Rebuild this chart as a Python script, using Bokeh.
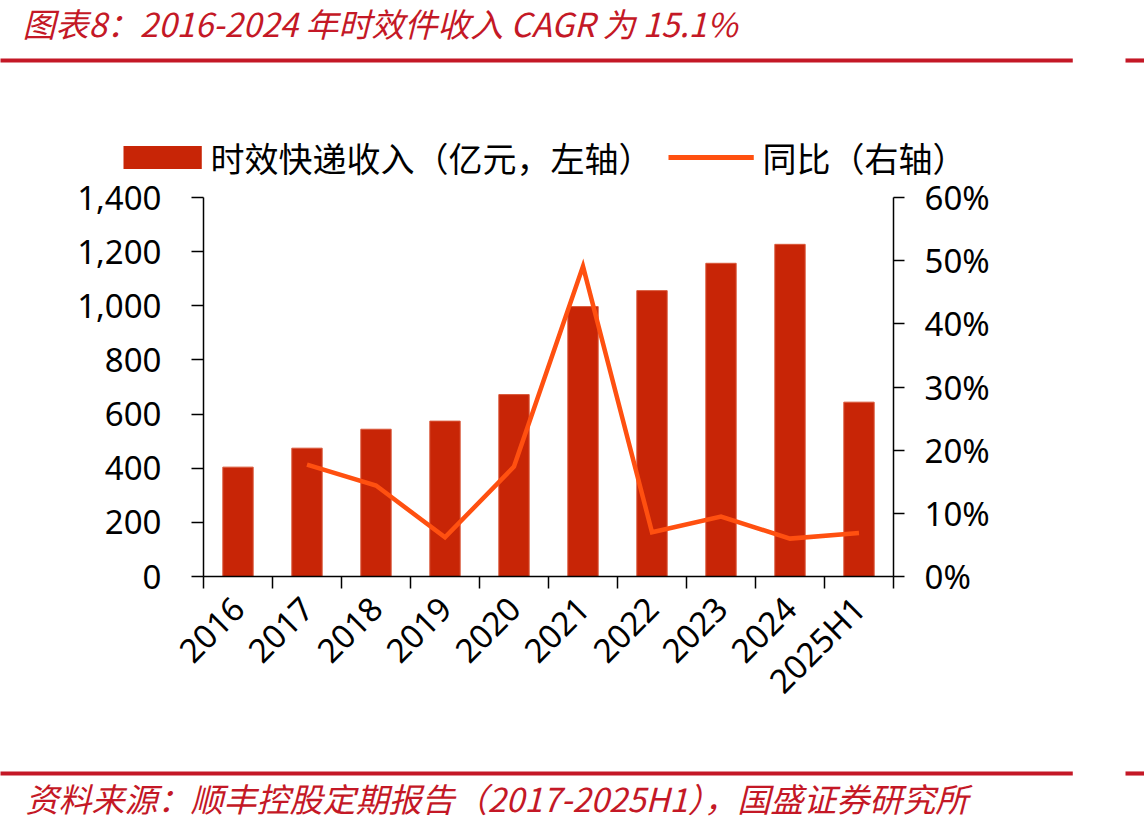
import math
from bokeh.plotting import figure
from bokeh.models import (Range1d, LinearAxis, FixedTicker, NumeralTickFormatter,
                          PrintfTickFormatter, Label)
from bokeh.embed import file_html
from bokeh.resources import INLINE

# ---- data ----
categories = ["2016", "2017", "2018", "2019", "2020", "2021", "2022", "2023", "2024", "2025H1"]
revenue = [404, 474, 544, 574, 672, 997, 1056, 1157, 1227, 644]          # 亿元
yoy_categories = ["2017", "2018", "2019", "2020", "2021", "2022", "2023", "2024", "2025H1"]
yoy = [17.7, 14.4, 6.2, 17.4, 49.1, 7.0, 9.5, 6.0, 6.9]                    # %
left_ticks = [0, 200, 400, 600, 800, 1000, 1200, 1400]
right_ticks = [0, 10, 20, 30, 40, 50, 60]

title_text = "图表8：2016-2024 年时效件收入 CAGR 为 15.1%"
source_text = "资料来源：顺丰控股定期报告（2017-2025H1），国盛证券研究所"
bar_label = "时效快递收入（亿元，左轴）"
line_label = "同比（右轴）"

# ---- style ----
W, H = 1144, 829
FL, FR, FT, FB = 203, 893, 197, 576
BAR_COLOR = "#C82506"
LINE_COLOR = "#FF5010"
RED = "#C41826"
NUM_FONT = "Noto Sans"
CJK_FONT = "Noto Sans CJK SC"

p = figure(width=W, height=H, output_backend="svg", toolbar_location=None,
           x_range=Range1d(0, len(categories)), y_range=Range1d(0, left_ticks[-1]),
           x_axis_type=None, y_axis_type=None,
           min_border_left=FL, min_border_right=W - FR,
           min_border_top=FT, min_border_bottom=H - FB)
p.grid.visible = False
p.outline_line_color = None
p.background_fill_color = "white"
p.border_fill_color = "white"
p.extra_y_ranges = {"pct": Range1d(0, right_ticks[-1])}

xpos = {c: i + 0.5 for i, c in enumerate(categories)}
bars = p.vbar(x=[xpos[c] for c in categories], top=revenue, width=0.44, bottom=0,
              fill_color=BAR_COLOR, line_color="#D9583A", line_width=1)
line = p.line(x=[xpos[c] for c in yoy_categories], y=yoy, y_range_name="pct",
              line_color=LINE_COLOR, line_width=4.5, line_join="miter")


def style_axis(ax):
    ax.axis_line_color = "black"
    ax.axis_line_width = 1.5
    ax.major_label_text_font = NUM_FONT
    ax.major_label_text_font_size = "33px"
    ax.major_label_text_color = "black"


yl = LinearAxis(ticker=FixedTicker(ticks=left_ticks, minor_ticks=[]),
                formatter=NumeralTickFormatter(format="0,0"))
style_axis(yl)
yl.major_tick_in = 0
yl.major_tick_out = 12
yl.major_tick_line_width = 1.5
yl.major_label_standoff = 30
p.add_layout(yl, "left")

yr = LinearAxis(y_range_name="pct", ticker=FixedTicker(ticks=right_ticks, minor_ticks=[]),
                formatter=PrintfTickFormatter(format="%d%%"))
style_axis(yr)
yr.major_tick_in = 0
yr.major_tick_out = 11
yr.major_tick_line_width = 1.5
yr.major_label_standoff = 20
p.add_layout(yr, "right")

xa = LinearAxis(ticker=FixedTicker(ticks=[xpos[c] for c in categories],
                                   minor_ticks=list(range(len(categories) + 1))),
                major_label_overrides={xpos[c]: c for c in categories})
style_axis(xa)
xa.major_tick_line_color = None
xa.major_tick_in = 0
xa.major_tick_out = 0
xa.minor_tick_in = 0
xa.minor_tick_out = 12
xa.minor_tick_line_color = "black"
xa.minor_tick_line_width = 1.5
xa.major_label_orientation = math.pi / 4
xa.major_label_standoff = 14
p.add_layout(xa, "below")


# text and decorations live in the side panels (canvas units) so they are not clipped
def text(x, y, s, side, size="33px", color="black", style="normal"):
    p.add_layout(Label(x=x, y=y, x_units="canvas", y_units="canvas", text=s,
                       text_font=CJK_FONT, text_font_size=size, text_font_style=style,
                       text_color=color, text_baseline="middle"), side)


def block(x, y, w, h_top, h_bot, color, side):
    p.add_layout(Label(x=x, y=y, x_units="canvas", y_units="canvas", text=" ",
                       text_font_size="1px", text_baseline="middle",
                       background_fill_color=color, background_fill_alpha=1,
                       padding=dict(left=0, right=w, top=h_top, bottom=h_bot)), side)


# title, rules, source
text(22, 22, title_text, "above", color=RED, style="italic")
block(0, 60, 1072, 2, 1, RED, "above")
block(1125, 60, 19, 2, 1, RED, "above")
block(0, 773, 1072, 2, 1, RED, "below")
block(1125, 773, 19, 2, 1, RED, "below")
text(25, 797, source_text, "below", color=RED, style="italic")

# legend
block(123, 157, 78, 11, 11, BAR_COLOR, "above")
text(210, 157, bar_label, "above", size="34px")
block(668, 157, 85, 2, 2, LINE_COLOR, "above")
text(762, 157, line_label, "above", size="34px")

open("out.html", "w").write(file_html(p, INLINE))
